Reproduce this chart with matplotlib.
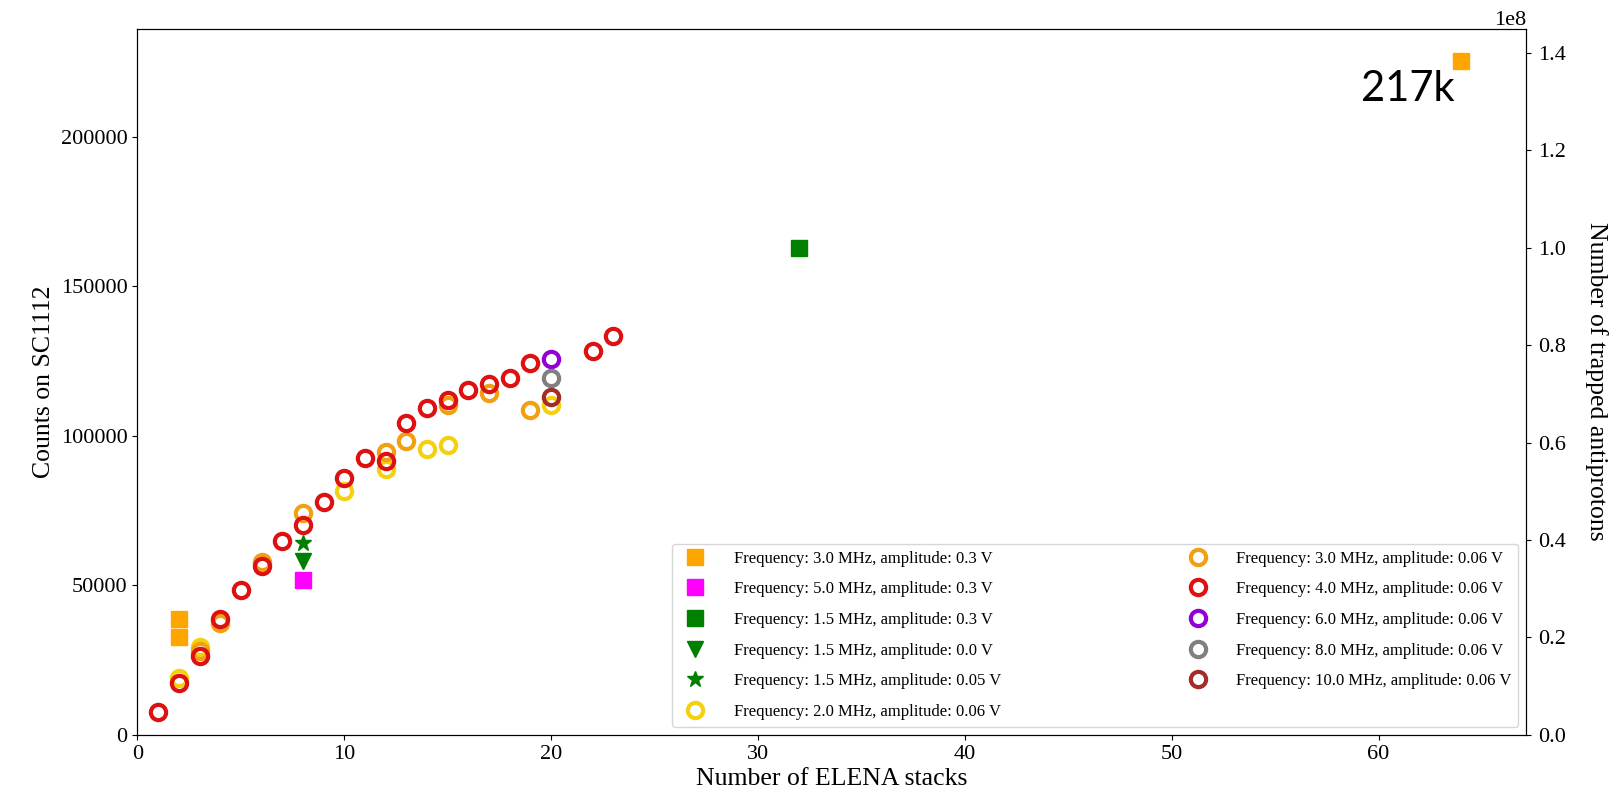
import matplotlib
matplotlib.use('Agg')
import matplotlib.pyplot as plt

plt.rcParams['font.family'] = ['Liberation Serif', 'DejaVu Serif']

# filled markers (amplitude 0.3 V and below)
stacks_3mhz_03 = [2, 2, 64]
counts_3mhz_03 = [38700, 32700, 225300]
stacks_5mhz_03 = [8]
counts_5mhz_03 = [51900]
stacks_15mhz_03 = [32]
counts_15mhz_03 = [162900]
stacks_15mhz_00 = [8]
counts_15mhz_00 = [58000]
stacks_15mhz_005 = [8]
counts_15mhz_005 = [64000]

# open circles (amplitude 0.06 V)
stacks_2mhz = [2, 3, 10, 12, 14, 15, 20]
counts_2mhz = [18900, 29400, 81500, 89000, 95600, 97100, 110200]
stacks_3mhz = [3, 4, 6, 8, 12, 13, 15, 17, 19]
counts_3mhz = [28000, 37400, 57800, 74200, 94500, 98200, 110400, 114400, 108600]
stacks_4mhz = [1, 2, 3, 4, 5, 6, 7, 8, 9, 10, 11, 12, 13, 14, 15, 16, 17, 18, 19, 22, 23]
counts_4mhz = [7800, 17500, 26400, 38700, 48600, 56500, 64700, 70300, 77800, 86000, 92700,
               91700, 104400, 109400, 112000, 115300, 117200, 119400, 124200, 128400, 133400]
stacks_6mhz = [20]
counts_6mhz = [125600]
stacks_8mhz = [20]
counts_8mhz = [119200]
stacks_10mhz = [20]
counts_10mhz = [113100]

counts_to_pbar = 614  # right axis scale factor

fig = plt.figure(figsize=(16.17, 7.97), dpi=100)
ax = fig.add_axes([0.085, 0.078, 0.859, 0.886])

sq = dict(linestyle='none', markersize=12)
ax.plot(stacks_3mhz_03, counts_3mhz_03, 's', color='orange', label='Frequency: 3.0 MHz, amplitude: 0.3 V', **sq)
ax.plot(stacks_5mhz_03, counts_5mhz_03, 's', color='magenta', label='Frequency: 5.0 MHz, amplitude: 0.3 V', **sq)
ax.plot(stacks_15mhz_03, counts_15mhz_03, 's', color='green', label='Frequency: 1.5 MHz, amplitude: 0.3 V', **sq)
ax.plot(stacks_15mhz_00, counts_15mhz_00, 'v', color='green', label='Frequency: 1.5 MHz, amplitude: 0.0 V', **sq)
ax.plot(stacks_15mhz_005, counts_15mhz_005, '*', color='green', label='Frequency: 1.5 MHz, amplitude: 0.05 V', **sq)

circ = dict(linestyle='none', marker='o', markersize=11, markerfacecolor='none', markeredgewidth=3)
ax.plot(stacks_2mhz, counts_2mhz, color='#f5d010', label='Frequency: 2.0 MHz, amplitude: 0.06 V', **circ)
ax.plot(stacks_3mhz, counts_3mhz, color='#f0a010', label='Frequency: 3.0 MHz, amplitude: 0.06 V', **circ)
ax.plot(stacks_4mhz, counts_4mhz, color='#dd1111', label='Frequency: 4.0 MHz, amplitude: 0.06 V', **circ)
ax.plot(stacks_6mhz, counts_6mhz, color='darkviolet', label='Frequency: 6.0 MHz, amplitude: 0.06 V', **circ)
ax.plot(stacks_8mhz, counts_8mhz, color='gray', label='Frequency: 8.0 MHz, amplitude: 0.06 V', **circ)
ax.plot(stacks_10mhz, counts_10mhz, color='brown', label='Frequency: 10.0 MHz, amplitude: 0.06 V', **circ)

ax.set_xlim(left=0)
ax.set_ylim(bottom=0)
ax.tick_params(labelsize=16)
ax.set_xlabel('Number of ELENA stacks', fontsize=18.5, labelpad=3)
ax.set_ylabel('Counts on SC1112', fontsize=18.5)

ax.text(63.7, 212000, '217k', fontsize=30, family='Lato', ha='right', va='baseline')

ax.legend(loc='lower right', ncol=2, fontsize=12, labelspacing=0.88,
          columnspacing=10.8, borderaxespad=0.5, handletextpad=1.3, numpoints=1)

ax2 = ax.twinx()
ax2.set_ylim(0, ax.get_ylim()[1] * counts_to_pbar)
ax2.tick_params(labelsize=16, pad=5)
off = ax2.yaxis.get_offset_text()
off.set_fontsize(16)
off.set_horizontalalignment('right')
ax2.set_ylabel('Number of trapped antiprotons', fontsize=18.5, rotation=270, labelpad=30)

fig.savefig('out.png', dpi=100)
